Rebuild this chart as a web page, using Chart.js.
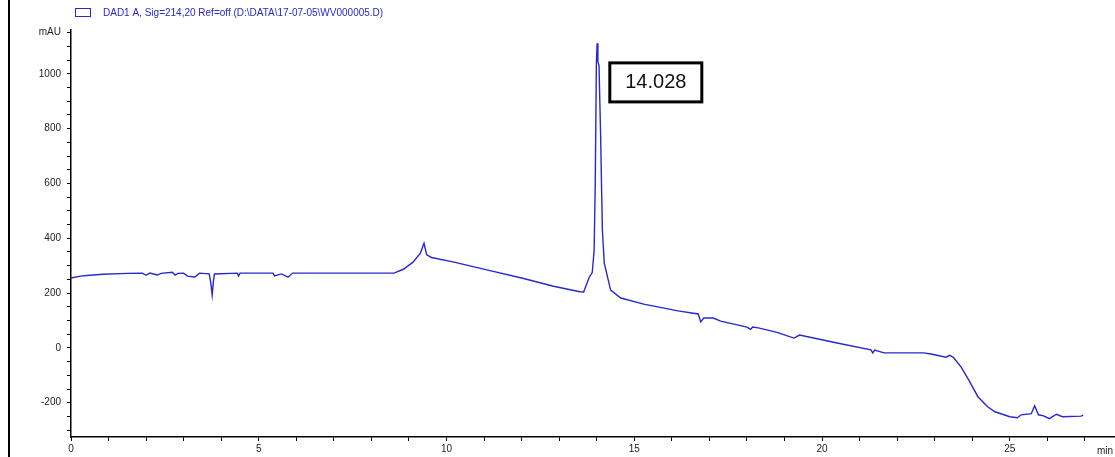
<!DOCTYPE html>
<html>
<head>
<meta charset="utf-8">
<script src="https://cdn.jsdelivr.net/npm/chart.js@4.4.1/dist/chart.umd.min.js"></script>
<style>
  html, body { margin: 0; padding: 0; background: #fff; }
  #wrap { width: 1115px; height: 457px; position: relative; }
</style>
</head>
<body>
<div id="wrap"><canvas id="chrom"></canvas></div>
<script>
// Chromatogram trace
const retentionTime = [
  0, 0.25, 0.5, 0.85, 1.5, 1.9, 2.0, 2.1, 2.3, 2.4, 2.7, 2.77, 2.85, 3.0, 3.1, 3.3, 3.42,
  3.68, 3.72, 3.76, 3.79, 3.82, 4.43, 4.46, 4.5, 5.38, 5.42, 5.6, 5.78, 5.9, 8.6, 8.85,
  9.1, 9.3, 9.4, 9.47, 9.6, 10.2, 11.1, 12.0, 12.85, 13.55, 13.65, 13.8, 13.88, 13.93,
  13.96, 13.99, 14.01, 14.03, 14.06, 14.1, 14.15, 14.2, 14.37, 14.64, 15.25, 16.16,
  16.7, 16.77, 16.85, 17.1, 17.3, 18.0, 18.1, 18.15, 18.3, 18.8, 19.25, 19.4, 20.4,
  21.3, 21.35, 21.4, 21.65, 22.7, 22.9, 23.3, 23.4, 23.5, 23.7, 23.9, 24.15, 24.4,
  24.6, 25.0, 25.2, 25.3, 25.57, 25.66, 25.76, 25.9, 26.05, 26.24, 26.4, 26.9, 26.95
];
const absorbance = [
  255, 262, 265, 269, 272, 273, 265, 273, 266, 272, 276, 266, 272, 273, 262, 259, 273,
  270, 240, 193, 240, 270, 273, 262, 273, 273, 263, 270, 258, 273, 273, 287,
  312, 345, 382, 340, 330, 313, 284, 255, 225, 205, 204, 258, 275, 356,
  600, 1040, 1112, 1045, 1030, 793, 429, 309, 211, 182, 160, 135,
  124, 95, 109, 109, 98, 76, 68, 76, 73, 57, 36, 47, 18,
  -7, -18, -8, -18, -18, -22, -34, -27, -35, -69, -116, -178, -214,
  -233, -251, -255, -244, -240, -211, -244, -248, -258, -242, -251, -249, -245
];

const seriesLabel = 'DAD1 A, Sig=214,20 Ref=off (D:\\DATA\\17-07-05\\WV000005.D)';
const peakTime = 14.028;
const peakLabel = '14.028';
const yMajorTicks = [-200, 0, 200, 400, 600, 800, 1000];
const xMajorTicks = [0, 5, 10, 15, 20, 25];

const traceColor = '#2828cc';
const fontFamily = '"Liberation Sans", Arial, sans-serif';

const points = retentionTime.map((t, i) => ({ x: t, y: absorbance[i] }));

// minor tick positions: every 50 mAU up to the unit tick, every minute up to 27
const yTickValues = [];
for (let v = -300; v <= 1150; v += 50) yTickValues.push(v);
const xTickValues = [];
for (let v = 0; v <= 27; v++) xTickValues.push(v);

// draws the frame line, legend, axis unit and the peak label
const decor = {
  id: 'decor',
  afterDraw(chart) {
    const ctx = chart.ctx;
    const xs = chart.scales.x;
    const ys = chart.scales.y;
    ctx.save();

    // left frame line
    ctx.strokeStyle = '#000';
    ctx.lineWidth = 2;
    ctx.beginPath();
    ctx.moveTo(9, 0);
    ctx.lineTo(9, chart.height);
    ctx.stroke();

    // legend
    ctx.strokeStyle = traceColor;
    ctx.lineWidth = 1;
    ctx.strokeRect(75.5, 8.5, 15, 8);
    ctx.fillStyle = traceColor;
    ctx.font = '10px ' + fontFamily;
    ctx.textBaseline = 'middle';
    ctx.textAlign = 'left';
    ctx.fillText(seriesLabel, 103, 13);

    // x unit
    ctx.fillStyle = '#222';
    ctx.fillText('min', 1097, 451);

    // peak label box
    const bx = xs.getPixelForValue(peakTime) + 12;
    const by = ys.getPixelForValue(1040);
    ctx.strokeStyle = '#000';
    ctx.lineWidth = 3;
    ctx.fillStyle = '#fff';
    ctx.fillRect(bx, by, 92, 39);
    ctx.strokeRect(bx, by, 92, 39);
    ctx.fillStyle = '#111';
    ctx.font = '20px ' + fontFamily;
    ctx.textAlign = 'center';
    ctx.fillText(peakLabel, bx + 46, by + 20);

    ctx.restore();
  }
};

new Chart(document.getElementById('chrom'), {
  type: 'scatter',
  data: {
    datasets: [{
      label: seriesLabel,
      data: points,
      showLine: true,
      borderColor: traceColor,
      borderWidth: 1.4,
      pointRadius: 0,
      tension: 0
    }]
  },
  options: {
    responsive: true,
    maintainAspectRatio: false,
    animation: false,
    layout: { padding: { top: 30, left: 0, right: 0, bottom: 0 } },
    plugins: {
      legend: { display: false },
      tooltip: { enabled: false }
    },
    scales: {
      x: {
        type: 'linear',
        min: 0,
        max: 27.8,
        afterBuildTicks: axis => {
          axis.ticks = xTickValues.map(v => ({ value: v }));
        },
        afterFit: axis => { axis.height = 20; },
        ticks: {
          autoSkip: false,
          maxRotation: 0,
          padding: 2,
          color: '#222',
          font: { family: fontFamily, size: 10 },
          callback: v => (xMajorTicks.includes(v) ? String(v) : '')
        },
        grid: { drawOnChartArea: false, drawTicks: true, tickLength: 4, color: '#000' },
        border: { color: '#000', width: 1.5 }
      },
      y: {
        type: 'linear',
        min: -325,
        max: 1160,
        afterBuildTicks: axis => {
          axis.ticks = yTickValues.map(v => ({ value: v }));
        },
        afterFit: axis => { axis.width = 71; },
        ticks: {
          autoSkip: false,
          padding: 6,
          color: '#222',
          font: { family: fontFamily, size: 10 },
          callback: v => (v === 1150 ? 'mAU' : (yMajorTicks.includes(v) ? String(v) : ''))
        },
        grid: { drawOnChartArea: false, drawTicks: true, tickLength: 4, color: '#000' },
        border: { color: '#000', width: 1.5 }
      }
    }
  },
  plugins: [decor]
});
</script>
</body>
</html>
